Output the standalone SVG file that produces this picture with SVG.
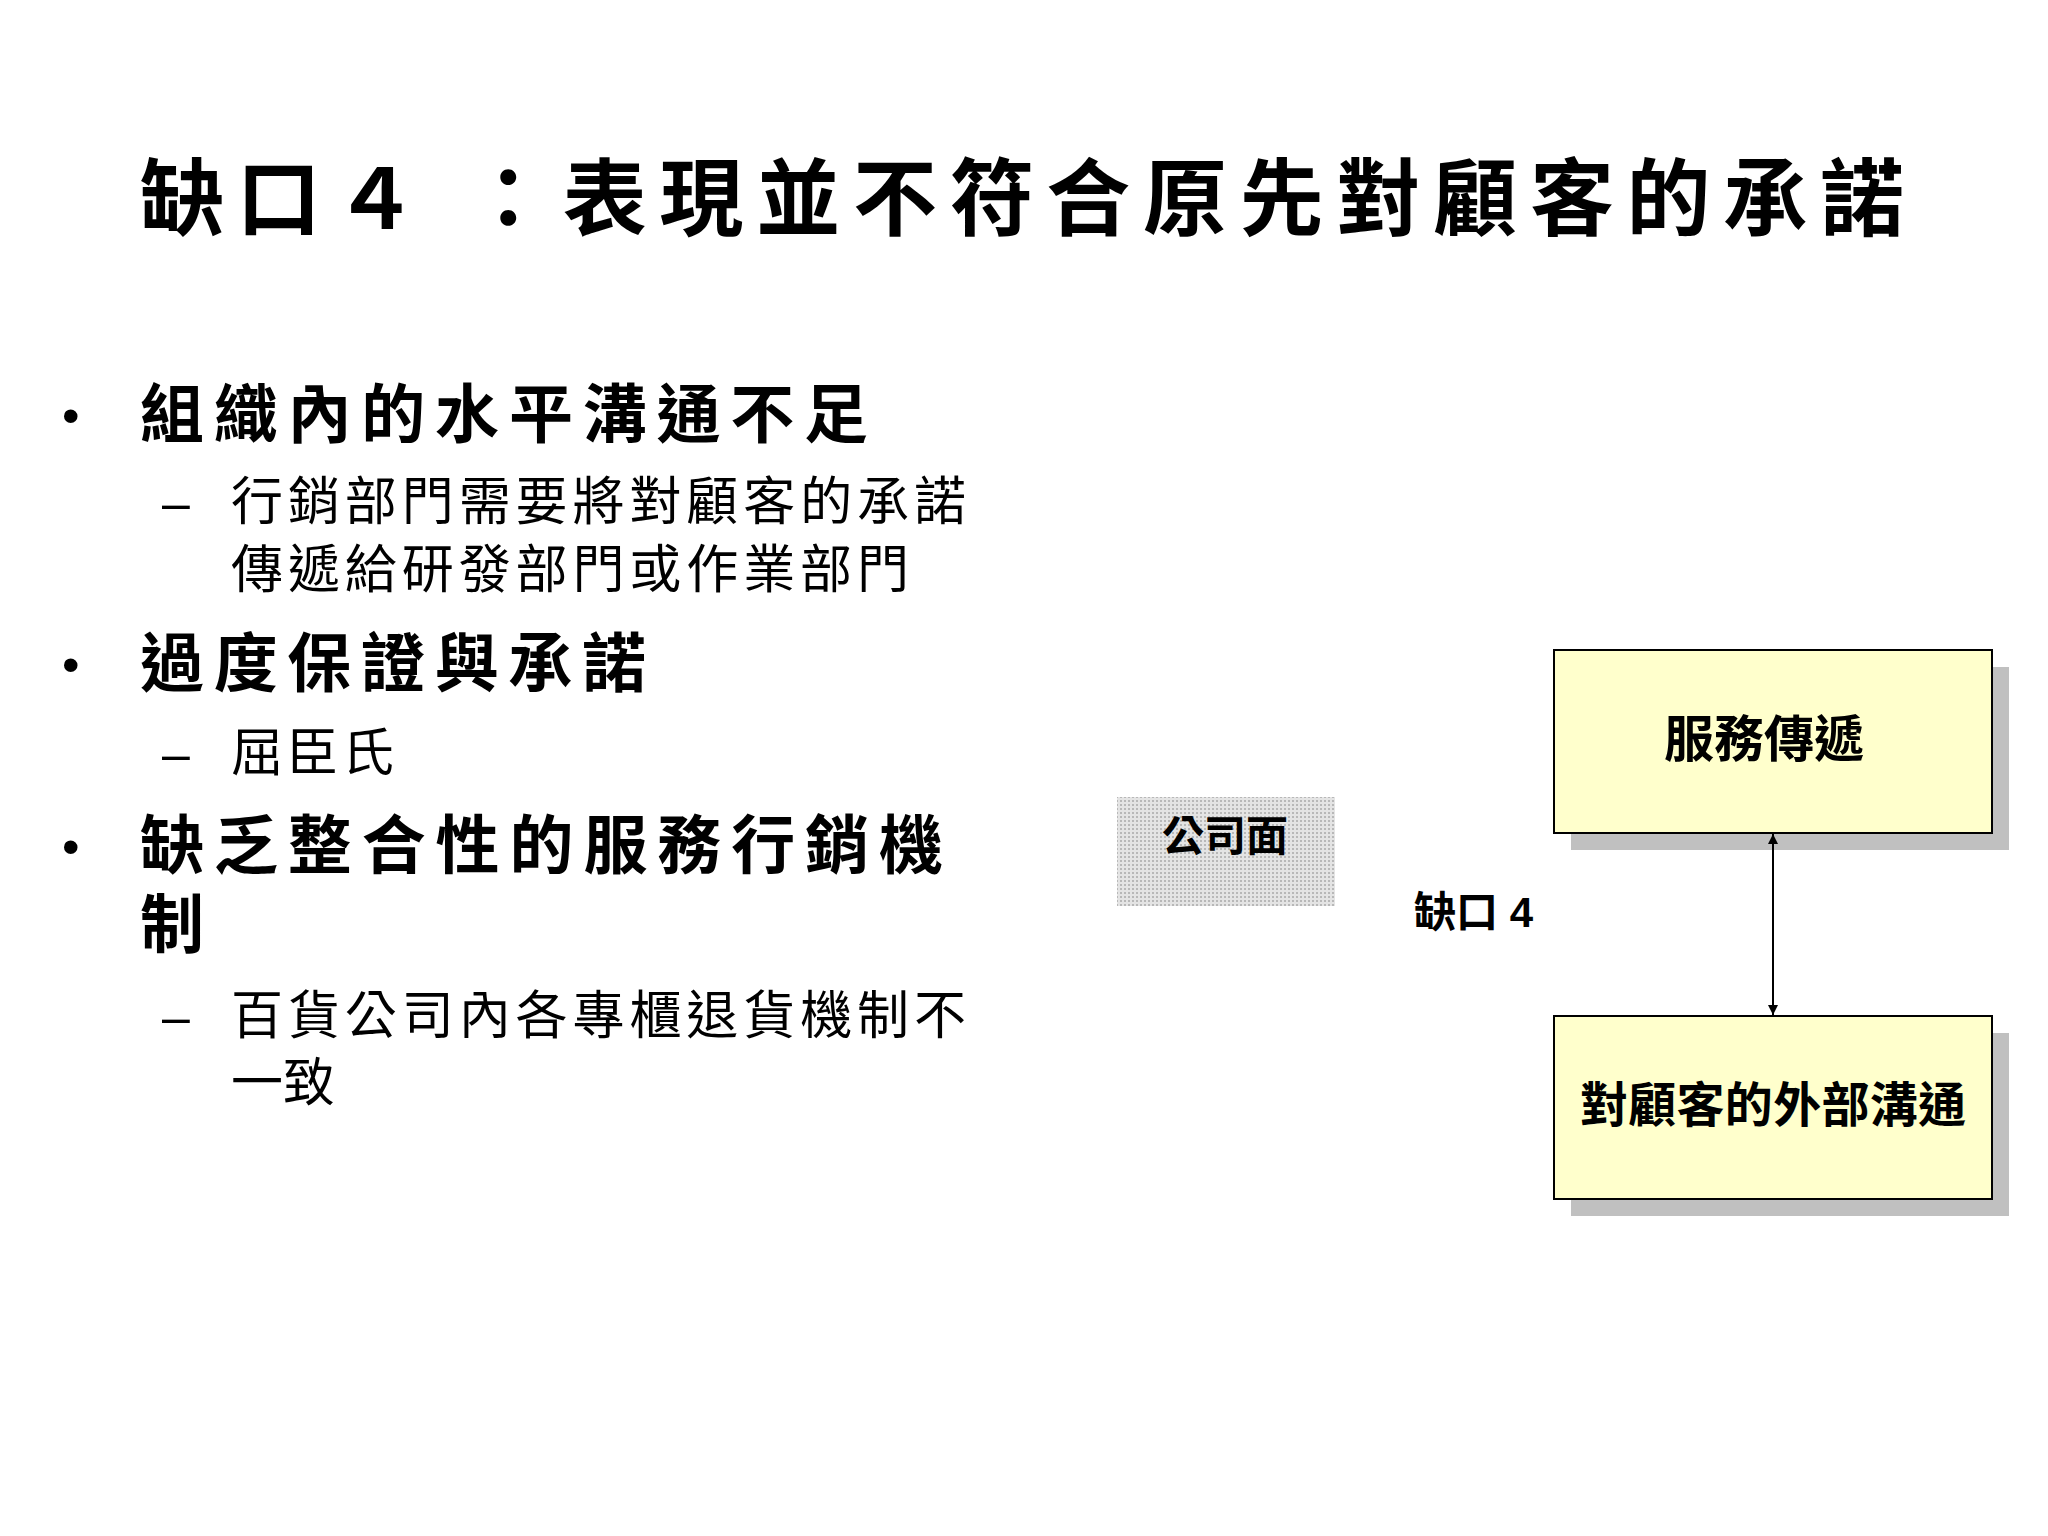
<svg xmlns="http://www.w3.org/2000/svg" width="2048" height="1536" viewBox="0 0 2048 1536">
<style>
text{font-family:"Liberation Sans","Noto Sans CJK TC",sans-serif;fill:#000}
.b{font-weight:bold}
.box{fill:#ffffcc;stroke:#000;stroke-width:2}
.sh{fill:#c0c0c0}
</style>
<defs>
<pattern id="dots" width="4" height="4" patternUnits="userSpaceOnUse">
<rect width="4" height="4" fill="#e4e4e4"/><rect width="2" height="2" fill="#b8b8b8"/>
</pattern>
<marker id="ah" viewBox="0 0 10 10" refX="10" refY="5" markerWidth="10" markerHeight="10" markerUnits="userSpaceOnUse" orient="auto-start-reverse"><path d="M0,0 L10,5 L0,10 Z" fill="#000"/></marker>
</defs>
<rect width="2048" height="1536" fill="#fff"/>
<text class="b" x="140" y="229" font-size="84" textLength="1764" lengthAdjust="spacing">缺口４ ：表現並不符合原先對顧客的承諾</text>
<g id="text-left">
<text x="62" y="433" font-size="50">•</text>
<text class="b" x="140" y="437" font-size="64" textLength="728" lengthAdjust="spacing">組織內的水平溝通不足</text>
<text x="162" y="520" font-size="50">–</text>
<text x="231" y="520" font-size="52" textLength="735" lengthAdjust="spacing">行銷部門需要將對顧客的承諾</text>
<text x="231" y="588" font-size="52" textLength="678" lengthAdjust="spacing">傳遞給研發部門或作業部門</text>
<text x="62" y="682" font-size="50">•</text>
<text class="b" x="140" y="686" font-size="64" textLength="506" lengthAdjust="spacing">過度保證與承諾</text>
<text x="162" y="771" font-size="50">–</text>
<text x="231" y="771" font-size="52" textLength="163" lengthAdjust="spacing">屈臣氏</text>
<text x="62" y="864" font-size="50">•</text>
<text class="b" x="140" y="868" font-size="64" textLength="803" lengthAdjust="spacing">缺乏整合性的服務行銷機</text>
<text class="b" x="140" y="947" font-size="64">制</text>
<text x="162" y="1034" font-size="50">–</text>
<text x="231" y="1034" font-size="52" textLength="735" lengthAdjust="spacing">百貨公司內各專櫃退貨機制不</text>
<text x="231" y="1101" font-size="52">一致</text>
</g>
<g id="company">
<rect x="1117" y="797" width="218" height="109" fill="url(#dots)"/>
<text class="b" x="1225" y="851" font-size="42" text-anchor="middle">公司面</text>
</g>
<g id="gap-label"><text class="b" x="1414" y="927" font-size="42">缺口 4</text></g>
<g id="delivery">
<rect class="sh" x="1571" y="667" width="438" height="183"/>
<rect class="box" x="1554" y="650" width="438" height="183"/>
<text class="b" x="1764" y="757" font-size="50" text-anchor="middle">服務傳遞</text>
</g>
<g id="external">
<rect class="sh" x="1571" y="1033" width="438" height="183"/>
<rect class="box" x="1554" y="1016" width="438" height="183"/>
<text class="b" x="1773" y="1122" font-size="48" text-anchor="middle" textLength="386" lengthAdjust="spacing">對顧客的外部溝通</text>
</g>
<g id="connectors">
<line x1="1773" y1="834" x2="1773" y2="1015" stroke="#000" stroke-width="2" marker-start="url(#ah)" marker-end="url(#ah)"/>
</g>
</svg>
